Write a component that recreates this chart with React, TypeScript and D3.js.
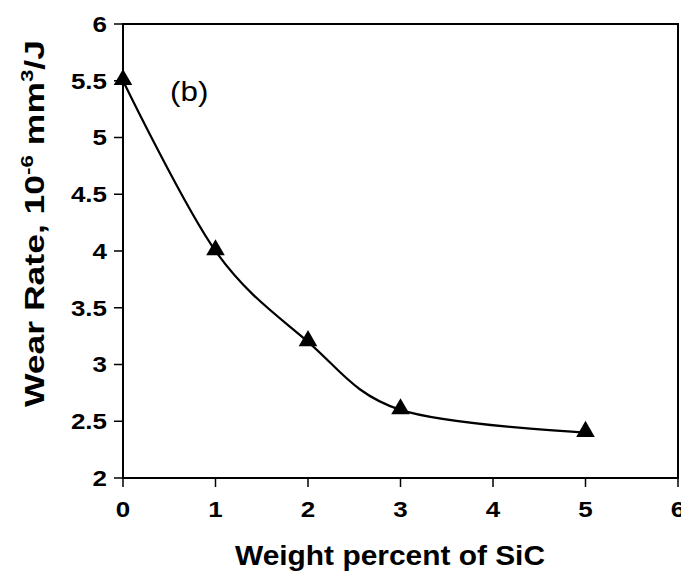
import React from "react";
import * as d3 from "d3";

const sicPercent = [0, 1, 2, 3, 5];
const wearRate = [5.5, 4.0, 3.2, 2.6, 2.4];
const xTicks = [0, 1, 2, 3, 4, 5, 6];
const yTicks = [2, 2.5, 3, 3.5, 4, 4.5, 5, 5.5, 6];

export default function App() {
  const W = 681, H = 572;
  const left = 123, right = 678, top = 24, bottom = 478;
  const x = d3.scaleLinear().domain([0, 6]).range([left, right]);
  const y = d3.scaleLinear().domain([2, 6]).range([bottom, top]);
  const pts = sicPercent.map((v, i) => [v, wearRate[i]] as [number, number]);
  const line = d3
    .line<[number, number]>()
    .x((d) => x(d[0]))
    .y((d) => y(d[1]))
    .curve(d3.curveCatmullRom.alpha(0));
  const tri = d3.symbol().type(d3.symbolTriangle).size(150)();
  const font = "Arial, 'Liberation Sans', sans-serif";
  const sx = 1.18;
  return (
    <svg
      width={W}
      height={H}
      style={{ position: "absolute", left: 0, top: 0, background: "#fff" }}
      fontFamily={font}
    >
      <rect x={left} y={top} width={right - left} height={bottom - top} fill="none" stroke="#000" strokeWidth={2} />
      {yTicks.map((t) => (
        <g key={"y" + t}>
          <line x1={left - 9} x2={left} y1={y(t)} y2={y(t)} stroke="#000" strokeWidth={1.5} />
          <text
            transform={`translate(${left - 16},${y(t)}) scale(${sx},1)`}
            dy="0.36em"
            textAnchor="end"
            fontSize={22}
            fontWeight="bold"
          >
            {t}
          </text>
        </g>
      ))}
      {xTicks.map((t) => (
        <g key={"x" + t}>
          <line x1={x(t)} x2={x(t)} y1={bottom} y2={bottom + 9} stroke="#000" strokeWidth={1.5} />
          <text
            transform={`translate(${x(t)},${bottom + 39}) scale(${sx},1)`}
            textAnchor="middle"
            fontSize={22}
            fontWeight="bold"
          >
            {t}
          </text>
        </g>
      ))}
      <path d={line(pts) || ""} fill="none" stroke="#000" strokeWidth={2.2} />
      {pts.map((p, i) => (
        <path key={i} d={tri || ""} transform={`translate(${x(p[0])},${y(p[1]) - 1})`} fill="#000" />
      ))}
      <text transform={`translate(170,101) scale(1.12,1)`} fontSize={28}>
        (b)
      </text>
      <text
        x={235}
        y={565}
        fontSize={28}
        fontWeight="bold"
        textLength={310}
        lengthAdjust="spacingAndGlyphs"
      >
        Weight percent of SiC
      </text>
      <text
        transform={`translate(44,${407}) rotate(-90)`}
        fontSize={27}
        fontWeight="bold"
        textLength={367}
        lengthAdjust="spacingAndGlyphs"
      >
        Wear Rate, 10
        <tspan dy={-11} fontSize={17}>-6</tspan>
        <tspan dy={11}> mm</tspan>
        <tspan dy={-11} fontSize={17}>3</tspan>
        <tspan dy={11}>/J</tspan>
      </text>
    </svg>
  );
}
